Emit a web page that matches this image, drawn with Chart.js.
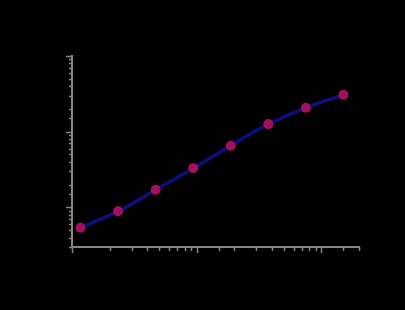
<!DOCTYPE html>
<html>
<head>
<meta charset="utf-8">
<script src="https://cdn.jsdelivr.net/npm/chart.js@4/dist/chart.umd.min.js"></script>
<style>
  html, body { margin: 0; padding: 0; background: #000; }
  #wrap { width: 405px; height: 310px; }
</style>
</head>
<body>
<div id="wrap"><canvas id="curveChart" width="405" height="310"></canvas></div>
<script>
// standard curve: concentration vs OD (log-log)
const concentration = [0.117, 0.234, 0.469, 0.938, 1.875, 3.75, 7.5, 15];
const odValues = [0.054, 0.089, 0.171, 0.33, 0.654, 1.26, 2.07, 3.07];
const xRange = [0.1, 20];
const yRange = [0.03, 10];

const axisGrey = '#858585';

// draws outward tick marks, long on decades and short in between
const tickMarks = {
    id: 'tickMarks',
    afterDraw(chart) {
        const c = chart.ctx;
        c.save();
        c.strokeStyle = axisGrey;
        c.lineWidth = 1.5;
        const xs = chart.scales.x, ys = chart.scales.y;
        const isMajor = v => Math.abs(Math.log10(v) - Math.round(Math.log10(v))) < 1e-6;
        xs.ticks.forEach(t => {
            const px = Math.round(xs.getPixelForValue(t.value)) + 0.5;
            const len = isMajor(t.value) ? 6 : 4;
            c.beginPath();
            c.moveTo(px, xs.top);
            c.lineTo(px, xs.top + len);
            c.stroke();
        });
        ys.ticks.forEach(t => {
            const py = Math.round(ys.getPixelForValue(t.value)) + 0.5;
            const len = isMajor(t.value) ? 6 : 3;
            c.beginPath();
            c.moveTo(ys.right, py);
            c.lineTo(ys.right - len, py);
            c.stroke();
        });
        c.restore();
    }
};

const points = concentration.map((x, i) => ({ x: x, y: odValues[i] }));

new Chart(document.getElementById('curveChart').getContext('2d'), {
    type: 'scatter',
    data: {
        datasets: [{
            data: points,
            showLine: true,
            borderColor: '#0e0e7c',
            borderWidth: 3.5,
            tension: 0.4,
            pointRadius: 5,
            pointBackgroundColor: '#a3105c',
            pointBorderColor: '#a3105c',
            pointBorderWidth: 0
        }]
    },
    options: {
        responsive: false,
        animation: false,
        layout: { padding: { left: 0, right: 46, top: 56, bottom: 0 } },
        plugins: {
            legend: { display: false },
            tooltip: { enabled: false }
        },
        scales: {
            x: {
                type: 'logarithmic',
                min: xRange[0],
                max: xRange[1],
                border: { color: axisGrey, width: 2 },
                grid: { drawOnChartArea: false, drawTicks: false },
                ticks: { color: '#000', font: { size: 9 }, padding: 8, maxRotation: 0, autoSkip: false },
                afterFit(s) { s.height = 63; }
            },
            y: {
                type: 'logarithmic',
                min: yRange[0],
                max: yRange[1],
                border: { color: axisGrey, width: 2 },
                grid: { drawOnChartArea: false, drawTicks: false },
                ticks: { color: '#000', font: { size: 9 }, padding: 8, autoSkip: false },
                afterFit(s) { s.width = 72; }
            }
        }
    },
    plugins: [tickMarks]
});
</script>
</body>
</html>
